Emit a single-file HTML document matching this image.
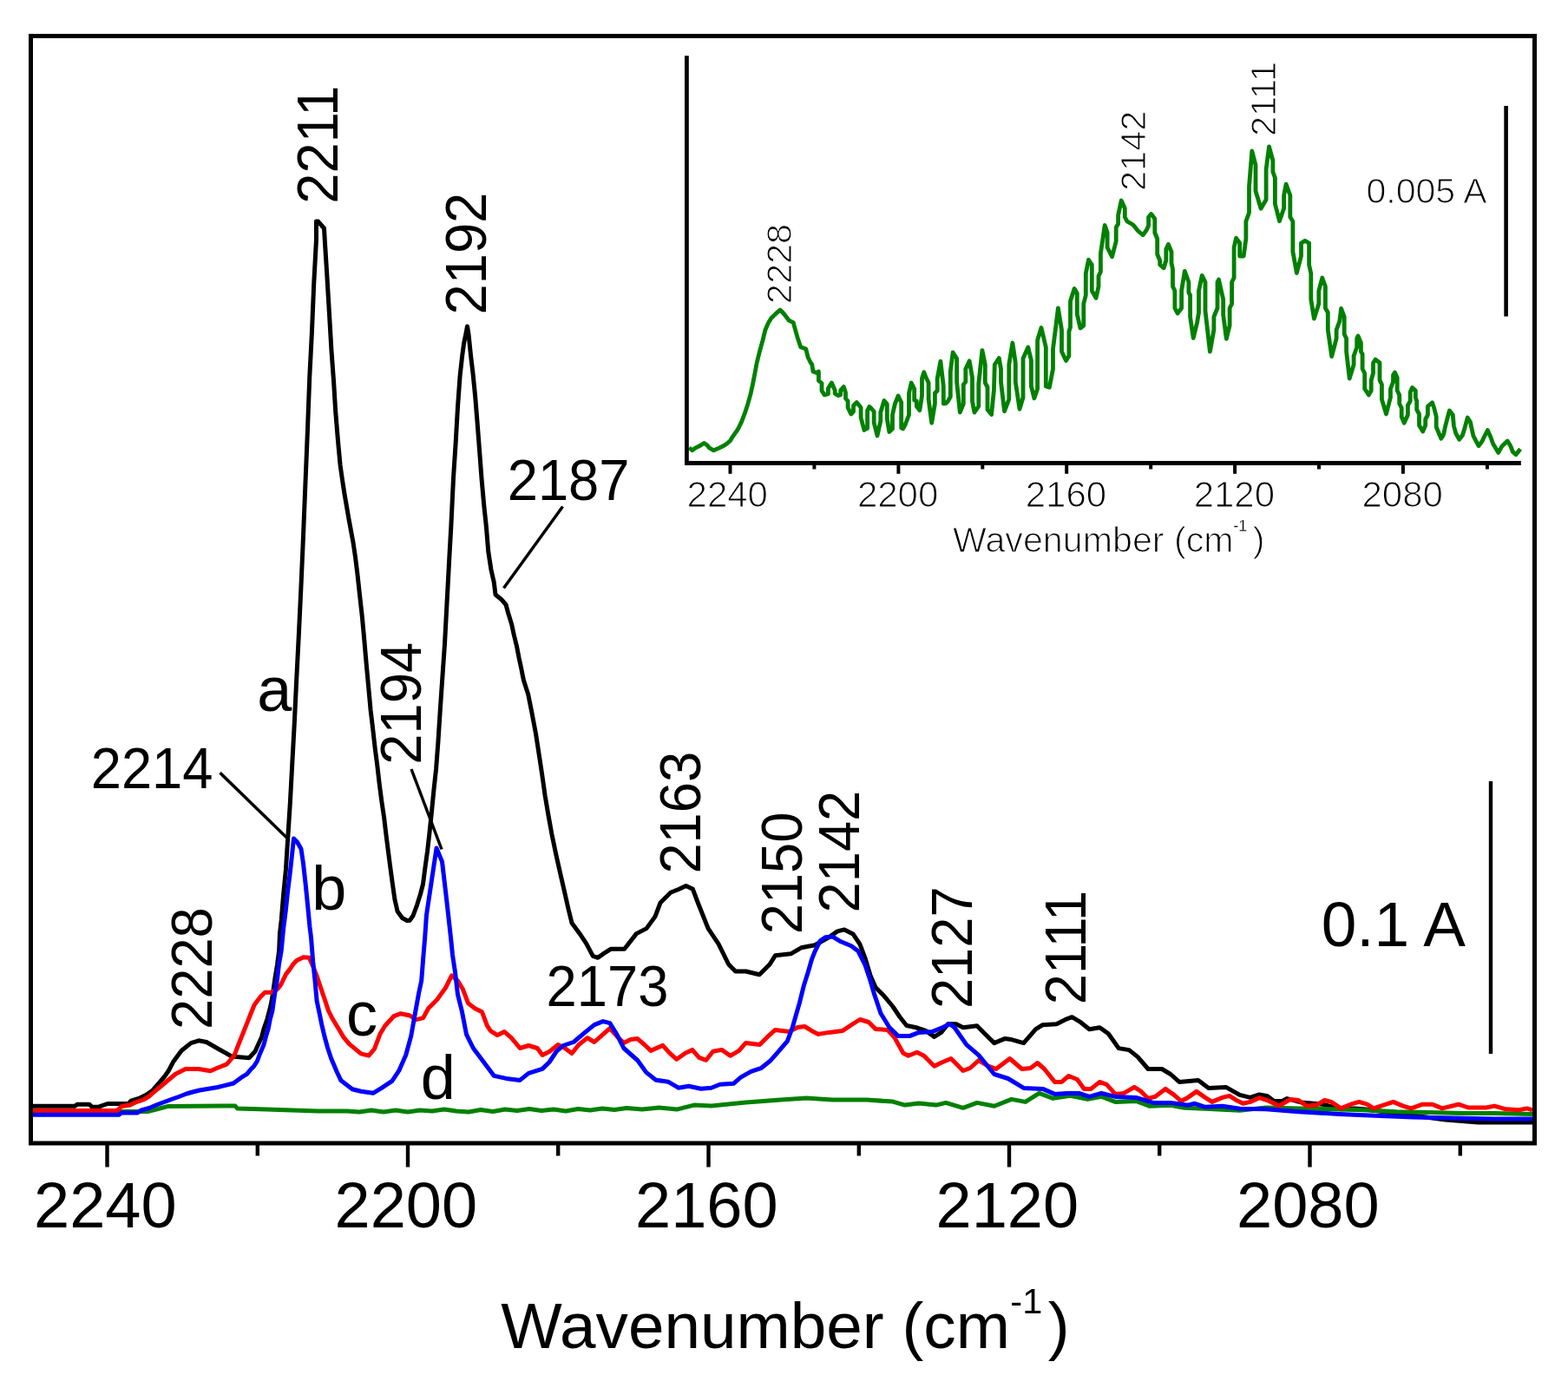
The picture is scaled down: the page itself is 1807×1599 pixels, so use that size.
<!DOCTYPE html>
<html><head><meta charset="utf-8"><title>IR spectra - Wavenumber</title>
<style>html,body{margin:0;padding:0;background:#fff;overflow:hidden;}svg{display:block;}text{font-family:'Liberation Sans', Arial, sans-serif;fill:#000;}.inset text{stroke:#fff;stroke-width:1.1px;paint-order:fill stroke;}</style></head><body>
<svg width="1807" height="1599" viewBox="0 0 1807 1599">
<rect x="0" y="0" width="1807" height="1599" fill="#fff"/>
<g fill="none" stroke-linejoin="round" stroke-linecap="butt">
<polyline points="37.0,1274.3 86.0,1274.3 89.0,1272.3 103.0,1272.3 106.0,1275.3 113.0,1275.3 124.0,1271.5 148.0,1271.5 151.0,1268.2 160.0,1265.4 169.0,1261.0 176.0,1256.0 183.0,1248.0 189.0,1241.0 194.0,1234.0 200.0,1222.7 209.0,1210.5 220.0,1201.6 229.0,1198.8 238.0,1200.5 251.0,1208.0 267.0,1217.0 287.0,1218.7 294.0,1211.3 297.4,1203.8 301.6,1194.4 304.1,1185.0 308.0,1173.7 311.8,1159.2 313.9,1148.5 316.9,1127.2 319.5,1111.3 321.6,1095.3 322.5,1075.0 324.2,1060.0 326.6,1031.0 329.4,1002.0 331.7,966.0 334.4,924.0 336.7,881.0 339.3,833.0 341.7,783.0 344.4,730.0 346.9,677.0 349.4,620.0 351.9,558.0 354.4,497.0 356.7,436.0 359.5,381.0 361.7,327.5 364.5,276.0 364.5,255.0 366.5,255.0 373.5,263.0 374.4,278.5 376.7,315.0 379.4,360.0 381.9,403.0 384.6,440.0 386.7,474.0 389.5,508.0 392.1,536.0 394.6,553.5 396.9,568.5 399.5,583.5 401.9,597.5 404.5,611.5 407.0,625.0 409.4,641.0 412.0,662.0 414.6,686.0 417.3,710.0 419.7,736.0 422.2,765.0 424.8,793.0 427.1,818.0 429.7,840.0 432.2,862.0 434.8,882.0 437.2,903.0 439.8,923.0 442.5,941.0 445.0,962.0 447.3,980.0 449.5,997.0 452.2,1017.0 454.9,1036.0 458.1,1050.0 463.6,1057.5 469.0,1060.5 472.0,1060.5 476.0,1055.0 480.6,1042.6 484.5,1030.0 487.5,1018.5 489.8,1000.5 492.5,981.0 495.0,959.0 497.4,936.0 499.9,910.5 502.6,885.5 504.9,855.0 507.3,817.5 509.8,781.0 512.5,742.0 514.9,697.0 517.6,646.5 519.9,605.0 522.5,551.0 525.1,511.0 527.5,469.0 530.1,433.0 532.6,410.5 534.7,395.0 537.0,384.0 538.5,376.0 540.0,385.0 542.6,410.0 545.1,431.0 547.6,456.0 550.1,487.0 552.6,519.5 555.1,552.5 557.8,582.5 560.5,608.0 562.7,635.0 565.9,656.0 569.3,671.0 571.0,685.0 577.7,690.5 583.0,696.5 585.7,706.5 589.6,719.0 592.3,731.5 595.5,744.5 598.0,757.5 600.5,769.0 603.4,783.5 608.7,800.0 612.6,819.4 617.4,844.6 621.3,869.8 624.8,893.0 628.1,916.3 632.0,939.5 635.9,960.9 640.7,984.1 645.5,1005.4 650.4,1026.7 655.2,1048.0 659.1,1063.6 667.8,1075.2 675.6,1086.8 683.3,1101.4 689.1,1103.3 695.9,1098.4 703.8,1093.3 719.6,1093.3 733.4,1075.6 745.0,1069.6 755.0,1055.9 761.0,1040.0 772.8,1028.3 782.6,1024.3 790.5,1020.4 798.4,1024.3 804.3,1040.0 816.1,1069.6 828.0,1087.4 839.7,1111.0 847.6,1119.0 859.5,1119.0 875.2,1122.8 887.0,1111.0 893.4,1100.8 911.3,1098.8 923.3,1091.8 939.2,1088.8 955.2,1079.8 965.1,1072.9 973.1,1070.9 983.0,1075.9 991.0,1087.8 997.0,1103.8 1003.0,1123.7 1009.0,1137.6 1019.0,1147.6 1028.9,1159.5 1036.9,1171.5 1044.8,1181.5 1054.8,1183.5 1066.8,1187.4 1076.7,1194.4 1084.7,1189.4 1092.7,1179.5 1102.0,1179.7 1109.9,1183.7 1125.9,1181.7 1133.8,1189.7 1145.8,1201.6 1157.7,1196.6 1165.7,1197.6 1179.7,1201.6 1193.6,1185.7 1201.6,1180.7 1217.5,1179.7 1227.5,1174.7 1235.4,1171.7 1245.4,1177.7 1255.4,1185.7 1267.3,1183.7 1277.3,1190.7 1289.2,1207.6 1301.2,1209.6 1311.2,1217.6 1323.1,1231.5 1339.0,1231.5 1349.0,1237.5 1359.0,1246.4 1380.9,1244.5 1392.8,1253.4 1412.8,1252.4 1428.7,1261.4 1440.7,1264.4 1451.3,1260.9 1460.7,1262.8 1468.2,1268.4 1477.6,1268.4 1483.3,1265.6 1500.0,1270.0 1524.7,1272.2 1545.4,1277.8 1560.4,1276.9 1571.7,1277.8 1620.0,1284.0 1665.8,1290.0 1703.4,1292.9 1741.0,1292.9 1766.0,1292.9" stroke="#000" stroke-width="5.0"/>
<polyline points="37.0,1280.0 150.0,1280.5 170.0,1280.5 182.0,1277.5 194.0,1274.4 271.0,1274.0 273.5,1277.0 306.7,1278.0 366.5,1280.0 400.0,1280.0 414.0,1281.0 428.0,1279.0 442.0,1281.0 456.0,1279.0 470.0,1281.0 484.0,1279.0 498.0,1280.0 512.0,1278.0 526.0,1280.0 540.0,1281.0 554.0,1278.5 568.0,1280.5 582.0,1278.0 596.0,1279.5 610.0,1277.5 624.0,1279.5 638.0,1278.0 652.0,1280.0 666.0,1277.5 680.0,1279.0 694.0,1277.0 708.0,1278.5 722.0,1276.5 740.0,1278.1 759.9,1276.1 779.8,1278.1 799.8,1273.1 819.7,1274.1 859.5,1270.1 899.4,1267.1 929.3,1265.1 959.2,1267.1 999.0,1267.1 1028.9,1269.1 1042.9,1273.1 1058.8,1271.1 1078.7,1273.1 1090.0,1270.4 1109.9,1276.3 1125.9,1270.4 1145.8,1274.3 1165.7,1266.4 1181.7,1269.4 1197.6,1259.4 1213.5,1265.4 1233.5,1262.4 1253.4,1266.4 1269.3,1263.4 1285.3,1269.4 1309.2,1268.4 1325.1,1274.3 1349.0,1273.3 1364.9,1276.3 1388.9,1277.3 1408.8,1278.3 1428.7,1279.3 1458.8,1276.0 1496.4,1276.9 1534.1,1277.8 1571.7,1278.8 1609.3,1280.7 1647.0,1281.6 1684.6,1282.5 1722.2,1282.5 1766.0,1283.5" stroke="#008000" stroke-width="5.0"/>
<polyline points="37.0,1279.5 135.0,1279.5 140.0,1274.5 150.0,1273.0 156.0,1270.0 165.0,1267.0 172.0,1263.0 178.0,1257.5 186.0,1251.0 193.0,1245.0 202.7,1237.0 213.7,1231.5 229.0,1231.5 242.5,1233.7 250.0,1230.5 261.1,1226.1 269.9,1216.1 275.5,1201.7 279.9,1190.7 284.3,1179.6 288.7,1168.5 293.2,1157.5 300.0,1148.5 305.3,1143.2 313.3,1143.2 320.2,1139.0 323.9,1134.1 326.6,1128.3 329.8,1121.9 334.0,1116.6 338.3,1110.2 341.9,1106.5 349.6,1102.7 356.3,1103.2 360.7,1113.2 365.1,1124.3 369.5,1137.6 374.0,1150.8 378.4,1164.1 382.8,1173.0 389.5,1184.0 396.1,1195.1 402.7,1202.9 409.4,1208.4 416.0,1213.9 424.9,1216.1 431.5,1208.4 438.2,1190.7 443.7,1181.8 453.8,1170.7 461.8,1167.7 471.7,1169.7 479.7,1174.6 487.7,1172.6 493.6,1161.7 503.6,1151.7 513.6,1137.8 520.5,1123.8 527.5,1129.8 533.5,1139.8 539.5,1155.7 547.4,1161.7 555.4,1165.7 561.4,1181.6 565.4,1187.6 573.3,1192.6 581.3,1188.6 589.3,1195.6 599.2,1207.5 609.2,1204.5 619.2,1207.5 625.1,1215.5 633.1,1211.5 643.1,1203.5 651.0,1207.5 659.0,1213.5 667.0,1203.5 676.9,1195.6 684.9,1200.5 694.9,1191.6 702.8,1184.6 710.8,1193.6 718.8,1201.5 726.8,1197.6 734.7,1196.6 742.7,1203.5 750.0,1210.4 763.9,1204.4 771.9,1213.3 779.8,1220.3 789.8,1213.3 797.8,1209.4 805.7,1218.3 813.7,1221.3 821.7,1211.3 831.7,1209.4 841.6,1216.3 851.6,1210.4 859.5,1201.4 875.5,1203.4 883.5,1195.4 893.4,1186.4 909.4,1188.4 919.3,1183.5 927.3,1182.5 935.3,1187.4 943.2,1191.4 955.2,1189.4 971.1,1187.4 983.0,1179.5 991.0,1174.5 1001.0,1177.5 1009.0,1185.4 1022.9,1186.4 1030.9,1195.4 1040.9,1213.3 1046.8,1216.3 1056.8,1212.3 1064.8,1216.3 1076.7,1228.3 1084.7,1224.3 1096.0,1219.5 1109.9,1233.5 1117.9,1230.5 1127.9,1221.5 1137.8,1227.5 1147.8,1231.5 1163.7,1219.5 1177.7,1231.5 1187.6,1230.5 1195.6,1224.5 1203.6,1231.5 1215.5,1246.4 1223.5,1246.4 1231.5,1239.5 1241.4,1243.5 1249.4,1254.4 1257.4,1254.4 1267.3,1246.4 1275.3,1249.4 1285.3,1260.4 1295.2,1259.4 1307.2,1252.4 1315.1,1257.4 1323.1,1265.4 1331.1,1263.4 1343.0,1254.4 1353.0,1261.4 1361.0,1268.4 1368.9,1264.4 1378.9,1257.4 1388.9,1264.4 1396.8,1269.4 1408.8,1264.4 1416.8,1262.4 1424.7,1267.4 1432.7,1271.3 1440.7,1269.4 1451.3,1264.7 1462.6,1268.4 1473.9,1274.1 1487.0,1266.5 1496.4,1267.5 1505.9,1274.1 1517.1,1273.1 1526.5,1267.5 1534.1,1269.4 1545.4,1276.9 1556.7,1272.2 1566.1,1269.4 1575.5,1272.2 1583.0,1276.9 1594.3,1273.1 1605.6,1269.4 1616.9,1274.1 1626.3,1276.9 1639.4,1272.2 1650.7,1272.2 1662.0,1276.9 1680.8,1272.2 1692.1,1276.0 1712.8,1276.0 1722.2,1274.1 1735.4,1277.8 1750.4,1278.8 1759.8,1276.9 1766.0,1278.8" stroke="#ff0000" stroke-width="5.0"/>
<polyline points="37.0,1284.3 137.0,1284.3 140.0,1282.0 158.0,1282.0 163.0,1279.0 172.0,1276.5 180.0,1273.0 188.0,1270.0 196.0,1267.0 206.0,1263.5 215.0,1260.0 222.0,1258.0 230.0,1256.0 251.0,1252.5 269.0,1248.0 277.9,1241.4 284.5,1237.3 288.7,1232.3 292.7,1228.2 296.4,1222.5 299.1,1215.0 303.9,1203.8 306.4,1194.4 309.2,1185.0 311.4,1173.5 313.9,1164.5 316.5,1145.9 319.3,1129.9 321.4,1111.3 324.2,1095.3 326.6,1070.0 329.3,1049.0 331.6,1027.0 334.3,1005.0 336.5,985.0 338.5,966.0 342.5,970.0 347.0,978.0 349.4,994.0 352.1,1018.0 354.6,1043.0 357.0,1068.0 358.5,1080.0 360.7,1107.7 362.9,1128.7 365.1,1153.0 367.9,1166.3 370.6,1179.6 374.0,1194.0 377.3,1206.2 381.7,1219.5 388.3,1235.0 393.0,1244.8 406.0,1254.8 416.0,1257.3 429.9,1259.3 439.8,1253.3 451.8,1245.4 459.8,1233.4 467.7,1215.5 473.7,1193.6 478.7,1165.7 482.7,1143.8 485.7,1129.8 487.7,1103.9 489.7,1080.0 491.5,1054.0 498.0,1010.5 503.0,977.0 509.5,992.6 514.6,1036.0 519.5,1080.0 521.5,1100.0 524.5,1119.8 527.5,1145.7 532.5,1165.7 537.5,1191.6 545.4,1207.5 557.4,1223.5 569.4,1239.4 583.3,1242.4 599.2,1244.4 609.2,1236.4 625.1,1231.4 633.1,1223.5 641.1,1211.5 649.0,1204.5 661.0,1200.5 675.0,1188.6 684.9,1180.6 694.9,1176.6 702.8,1178.6 710.8,1191.6 718.8,1207.5 734.7,1221.5 744.7,1235.4 755.9,1244.2 769.9,1246.2 781.8,1253.2 793.8,1251.2 807.7,1254.2 819.7,1253.2 829.7,1249.2 845.6,1248.2 853.6,1241.2 865.5,1234.3 877.5,1230.3 887.4,1222.3 895.4,1213.3 907.4,1199.4 913.3,1183.5 917.3,1169.5 921.3,1155.6 926.3,1135.6 931.3,1119.7 935.3,1105.7 939.2,1095.8 945.2,1083.8 951.2,1079.8 959.2,1078.9 969.1,1084.8 981.1,1089.8 989.0,1095.8 997.0,1111.7 1003.0,1129.7 1007.0,1143.6 1015.0,1167.5 1024.9,1183.5 1034.9,1193.4 1048.8,1193.4 1058.8,1189.4 1074.7,1188.4 1086.7,1183.5 1094.6,1179.5 1100.0,1183.7 1113.9,1203.6 1127.9,1215.6 1145.8,1237.5 1161.7,1242.5 1179.7,1253.4 1201.6,1254.4 1215.5,1260.4 1229.5,1259.4 1243.4,1259.4 1255.4,1263.4 1269.3,1259.4 1285.3,1263.4 1309.2,1264.4 1329.1,1270.4 1349.0,1270.4 1368.9,1273.3 1376.9,1271.3 1388.9,1275.3 1408.8,1274.3 1428.7,1277.3 1458.8,1277.8 1496.4,1280.7 1543.5,1283.5 1590.5,1285.4 1628.1,1286.9 1684.6,1288.2 1722.2,1289.1 1766.0,1289.1" stroke="#0000ff" stroke-width="5.0"/>
</g>
<rect x="35.5" y="41.5" width="1733" height="1275.5" fill="none" stroke="#000" stroke-width="5"/>
<line x1="123.5" y1="1318" x2="123.5" y2="1344.5" stroke="#000" stroke-width="4.4"/><line x1="296.8" y1="1318" x2="296.8" y2="1331.5" stroke="#000" stroke-width="4.4"/><line x1="470.0" y1="1318" x2="470.0" y2="1344.5" stroke="#000" stroke-width="4.4"/><line x1="643.2" y1="1318" x2="643.2" y2="1331.5" stroke="#000" stroke-width="4.4"/><line x1="816.5" y1="1318" x2="816.5" y2="1344.5" stroke="#000" stroke-width="4.4"/><line x1="989.8" y1="1318" x2="989.8" y2="1331.5" stroke="#000" stroke-width="4.4"/><line x1="1163.0" y1="1318" x2="1163.0" y2="1344.5" stroke="#000" stroke-width="4.4"/><line x1="1336.2" y1="1318" x2="1336.2" y2="1331.5" stroke="#000" stroke-width="4.4"/><line x1="1509.5" y1="1318" x2="1509.5" y2="1344.5" stroke="#000" stroke-width="4.4"/><line x1="1682.8" y1="1318" x2="1682.8" y2="1331.5" stroke="#000" stroke-width="4.4"/>
<text x="39.07" y="1414.00" font-size="74">2240</text>
<text x="385.57" y="1414.00" font-size="74">2200</text>
<text x="732.07" y="1414.00" font-size="74">2160</text>
<text x="1078.57" y="1414.00" font-size="74">2120</text>
<text x="1425.07" y="1414.00" font-size="74">2080</text>
<text x="577.37" y="1552.80" font-size="74.7">Wavenumber (cm</text>
<text x="1164.36" y="1512.60" font-size="41.5">-1</text>
<text x="1207.76" y="1552.80" font-size="74.7">)</text>
<line x1="1718" y1="900" x2="1718" y2="1214" stroke="#000" stroke-width="4.4"/>
<text x="1522.65" y="1090.00" font-size="73">0.1 A</text>
<text transform="translate(389.30,234.68) rotate(-90) scale(1,1.045)" x="0" y="0" font-size="63.3">2211</text>
<text transform="translate(559.90,362.48) rotate(-90) scale(1,1.045)" x="0" y="0" font-size="63.3">2192</text>
<text transform="translate(485.00,880.68) rotate(-90) scale(1,1.045)" x="0" y="0" font-size="63.3">2194</text>
<text transform="translate(806.60,1006.58) rotate(-90) scale(1,1.045)" x="0" y="0" font-size="63.3">2163</text>
<text transform="translate(924.40,1076.28) rotate(-90) scale(1,1.045)" x="0" y="0" font-size="63.3">2150</text>
<text transform="translate(989.80,1051.48) rotate(-90) scale(1,1.045)" x="0" y="0" font-size="63.3">2142</text>
<text transform="translate(1120.30,1162.08) rotate(-90) scale(1,1.045)" x="0" y="0" font-size="63.3">2127</text>
<text transform="translate(1251.10,1157.18) rotate(-90) scale(1,1.045)" x="0" y="0" font-size="63.3">2111</text>
<text transform="translate(243.60,1185.98) rotate(-90) scale(1,1.045)" x="0" y="0" font-size="63.3">2228</text>
<text transform="translate(104.72,907.70) scale(1,1.045)" x="0" y="0" font-size="63.3">2214</text>
<text transform="translate(584.72,575.80) scale(1,1.045)" x="0" y="0" font-size="63.3">2187</text>
<text transform="translate(629.62,1158.50) scale(1,1.045)" x="0" y="0" font-size="63.3">2173</text>
<text x="296.24" y="819.00" font-size="72">a</text>
<text x="359.16" y="1047.80" font-size="72">b</text>
<text x="398.94" y="1192.90" font-size="72">c</text>
<text x="484.68" y="1265.60" font-size="72">d</text>
<g stroke="#000" stroke-width="3.5" fill="none" stroke-linecap="butt">
<line x1="253.6" y1="890.3" x2="332" y2="966.5"/>
<line x1="474" y1="886" x2="509" y2="978.5"/>
<line x1="648.5" y1="583.5" x2="580.5" y2="677.5"/>
</g>
<polyline points="794.2,515.7 797.7,518.8 801.2,516.1 806.6,513.5 811.4,510.4 815.0,513.0 817.6,516.1 822.5,518.8 828.7,516.1 834.0,513.5 837.5,511.2 841.5,507.7 844.2,503.3 846.4,500.2 849.5,495.8 851.7,491.8 854.5,486.1 858.2,476.4 861.8,465.4 864.9,454.4 867.3,443.5 869.7,431.3 872.2,417.9 875.2,405.7 878.9,392.3 881.9,380.2 885.0,372.9 888.6,366.8 893.5,361.9 899.0,357.0 903.2,361.3 909.3,369.2 914.2,371.7 916.6,380.2 919.0,388.7 922.7,399.7 928.8,402.1 931.2,411.8 934.3,418.0 935.8,420.0 937.0,428.0 941.0,429.5 943.4,428.0 943.4,438.5 947.0,441.5 947.0,450.0 950.1,455.0 954.4,454.0 954.4,447.5 958.4,441.0 962.2,449.5 962.2,453.5 966.0,455.7 968.7,455.0 968.7,449.5 972.3,445.5 974.5,452.3 974.5,459.0 977.1,462.0 977.1,469.5 980.7,477.0 983.5,474.0 983.5,467.5 987.3,463.5 992.1,469.5 992.1,481.0 995.9,495.5 999.6,493.5 999.6,473.0 1002.0,468.5 1004.5,471.0 1007.2,474.0 1007.2,487.0 1011.0,502.0 1014.8,485.0 1014.8,475.0 1018.9,461.5 1022.3,465.5 1022.3,482.5 1024.8,497.5 1028.5,494.0 1028.5,478.0 1031.3,465.5 1035.1,456.0 1038.7,463.5 1038.7,493.0 1040.5,494.0 1043.3,489.0 1047.5,478.0 1047.5,453.0 1050.2,441.0 1053.7,448.0 1053.7,461.0 1056.3,462.0 1056.3,468.0 1059.9,472.7 1062.5,456.0 1062.5,436.0 1064.8,428.8 1067.2,435.0 1070.1,441.0 1070.1,460.0 1073.7,487.3 1077.4,465.0 1077.4,453.0 1080.2,450.0 1080.2,436.0 1083.9,416.2 1087.3,445.0 1087.3,465.0 1090.4,464.6 1092.5,462.0 1095.3,457.0 1095.3,428.0 1098.1,406.0 1102.6,413.0 1102.6,440.0 1106.3,475.1 1110.3,465.0 1110.3,443.0 1112.8,440.0 1112.8,425.0 1117.2,415.8 1120.5,435.0 1120.5,462.0 1122.9,475.1 1127.8,468.0 1127.8,442.0 1131.9,403.6 1135.3,420.0 1135.3,441.0 1138.0,446.0 1138.0,472.0 1142.6,477.6 1145.4,450.0 1146.3,420.0 1151.3,412.5 1153.5,425.0 1153.5,440.0 1157.5,473.8 1162.8,460.0 1162.8,420.0 1166.9,395.0 1170.3,418.0 1170.3,440.0 1175.0,471.3 1179.0,458.0 1179.0,413.0 1184.8,400.0 1188.4,415.0 1188.4,445.0 1191.9,458.8 1195.6,448.0 1195.6,392.0 1200.0,377.5 1205.3,400.0 1205.3,445.0 1209.4,446.3 1213.5,425.0 1213.5,402.0 1219.4,355.0 1223.5,380.0 1223.5,405.0 1228.5,415.6 1231.9,410.0 1231.9,382.0 1233.5,377.0 1233.5,347.0 1238.1,332.5 1241.3,338.0 1241.3,362.0 1245.0,378.0 1248.8,375.0 1248.8,350.0 1251.3,340.0 1251.3,315.0 1254.5,299.3 1258.3,305.0 1258.3,335.0 1263.1,343.3 1266.0,330.0 1266.0,318.0 1268.4,313.0 1268.4,292.0 1273.2,259.5 1276.1,268.0 1276.1,285.0 1281.5,295.8 1286.2,278.0 1286.2,262.0 1288.6,258.0 1288.6,248.0 1292.2,231.0 1296.3,240.0 1296.3,250.0 1298.9,255.0 1305.8,259.0 1311.5,266.0 1317.1,270.8 1321.3,265.0 1323.6,260.0 1323.6,250.0 1326.6,246.5 1330.8,252.0 1330.8,268.0 1333.7,275.0 1333.7,293.0 1336.7,300.0 1336.7,305.0 1341.2,308.8 1343.8,300.0 1343.8,287.0 1346.4,281.5 1350.0,290.0 1350.0,303.0 1351.5,310.0 1351.5,330.0 1353.9,335.0 1353.9,355.0 1357.0,361.0 1361.6,355.0 1361.6,335.0 1365.3,312.4 1369.9,325.0 1369.9,337.0 1371.6,340.0 1371.6,365.0 1375.2,389.5 1379.5,372.0 1381.5,360.0 1381.5,335.0 1385.2,317.4 1389.0,325.0 1389.0,358.0 1394.4,405.2 1398.9,380.0 1398.9,365.0 1403.0,355.0 1403.0,325.0 1404.5,322.0 1409.7,345.0 1409.7,363.0 1413.3,390.3 1417.1,375.0 1417.1,355.0 1419.6,350.0 1419.6,325.0 1422.1,320.0 1422.1,285.0 1424.6,274.3 1428.7,280.0 1428.7,295.0 1433.2,295.0 1435.9,275.0 1435.9,255.0 1439.5,245.0 1439.5,215.0 1442.8,174.0 1447.0,190.0 1447.0,220.0 1453.1,240.3 1459.1,230.0 1459.1,195.0 1462.5,169.0 1466.9,185.0 1466.9,198.0 1469.4,205.0 1469.4,235.0 1474.5,254.7 1479.6,240.0 1479.6,225.0 1482.1,212.1 1486.8,225.0 1486.8,250.0 1489.9,255.0 1489.9,290.0 1494.4,314.5 1499.5,295.0 1499.5,280.0 1503.9,277.4 1508.6,280.0 1508.6,305.0 1510.8,315.0 1510.8,345.0 1514.4,367.1 1519.8,350.0 1519.8,335.0 1523.8,320.0 1527.4,330.0 1527.4,355.0 1530.3,360.0 1530.3,380.0 1534.7,410.6 1540.1,390.0 1540.1,380.0 1543.8,370.0 1545.6,355.3 1549.2,365.0 1549.2,385.0 1551.6,390.0 1551.6,405.0 1555.2,436.0 1560.1,420.0 1560.1,410.0 1563.7,400.0 1563.7,390.0 1565.0,387.0 1568.4,395.0 1568.4,405.0 1570.1,408.0 1570.1,425.0 1572.7,430.0 1572.7,448.0 1577.4,454.9 1580.2,450.0 1580.2,438.0 1582.5,430.0 1582.5,418.0 1585.1,414.1 1590.0,418.0 1590.0,438.0 1592.4,443.0 1592.4,460.0 1597.5,477.0 1602.4,458.0 1602.4,448.0 1605.5,440.0 1605.5,432.0 1607.4,429.1 1610.2,435.0 1610.2,450.0 1612.7,455.0 1612.7,465.0 1615.2,470.0 1615.2,480.0 1618.2,487.3 1622.4,478.0 1622.4,467.0 1625.2,462.0 1625.2,452.0 1627.5,446.5 1631.3,450.0 1631.3,458.0 1632.7,462.0 1632.7,472.0 1635.5,477.0 1635.5,490.0 1639.7,497.1 1642.7,490.0 1642.7,483.0 1645.4,478.0 1645.4,468.0 1650.5,463.8 1652.7,470.0 1655.2,480.0 1655.2,492.0 1660.8,505.2 1662.7,502.4 1663.9,499.4 1665.3,492.3 1667.7,482.8 1670.4,473.0 1674.3,478.0 1675.4,490.5 1677.8,499.4 1681.7,506.3 1685.5,501.2 1687.9,493.5 1691.2,481.0 1694.5,486.3 1695.7,492.3 1698.0,502.4 1704.0,513.7 1708.1,508.3 1710.5,503.0 1714.4,495.6 1718.2,504.2 1720.6,511.3 1726.8,521.4 1730.7,514.3 1737.2,508.0 1740.8,513.7 1743.2,520.2 1747.0,523.8 1752.1,517.2" fill="none" stroke="#008000" stroke-width="4.8" stroke-linejoin="round"/>
<polyline points="791.4,64.3 791.4,533.5 1752.8,533.5" fill="none" stroke="#000" stroke-width="4.8"/>
<line x1="841.5" y1="535" x2="841.5" y2="545.8" stroke="#000" stroke-width="4"/><line x1="938.4" y1="535" x2="938.4" y2="540.5" stroke="#000" stroke-width="4"/><line x1="1035.4" y1="535" x2="1035.4" y2="545.8" stroke="#000" stroke-width="4"/><line x1="1132.3" y1="535" x2="1132.3" y2="540.5" stroke="#000" stroke-width="4"/><line x1="1229.2" y1="535" x2="1229.2" y2="545.8" stroke="#000" stroke-width="4"/><line x1="1326.2" y1="535" x2="1326.2" y2="540.5" stroke="#000" stroke-width="4"/><line x1="1423.1" y1="535" x2="1423.1" y2="545.8" stroke="#000" stroke-width="4"/><line x1="1520.0" y1="535" x2="1520.0" y2="540.5" stroke="#000" stroke-width="4"/><line x1="1616.9" y1="535" x2="1616.9" y2="545.8" stroke="#000" stroke-width="4"/><line x1="1713.9" y1="535" x2="1713.9" y2="540.5" stroke="#000" stroke-width="4"/>
<g class="inset">
<text x="791.55" y="583.50" font-size="42">2240</text>
<text x="987.91" y="583.50" font-size="42">2200</text>
<text x="1181.77" y="583.50" font-size="42">2160</text>
<text x="1375.63" y="583.50" font-size="42">2120</text>
<text x="1569.49" y="583.50" font-size="42">2080</text>
<text x="1098.12" y="636.40" font-size="41.2">Wavenumber (cm</text>
<text x="1421.20" y="612.00" font-size="18" style="stroke-width:0.3px">-1</text>
<text x="1443.86" y="636.40" font-size="41.2">)</text>
<line x1="1735.6" y1="122" x2="1735.6" y2="364.5" stroke="#000" stroke-width="4.6"/>
<text x="1574.39" y="234.20" font-size="41.1">0.005 A</text>
<text transform="translate(912.00,350.19) rotate(-90)" x="0" y="0" font-size="41.5">2228</text>
<text transform="translate(1319.60,219.99) rotate(-90)" x="0" y="0" font-size="41.5">2142</text>
<text transform="translate(1470.30,157.09) rotate(-90)" x="0" y="0" font-size="41.5">2111</text>
</g>
</svg></body></html>
